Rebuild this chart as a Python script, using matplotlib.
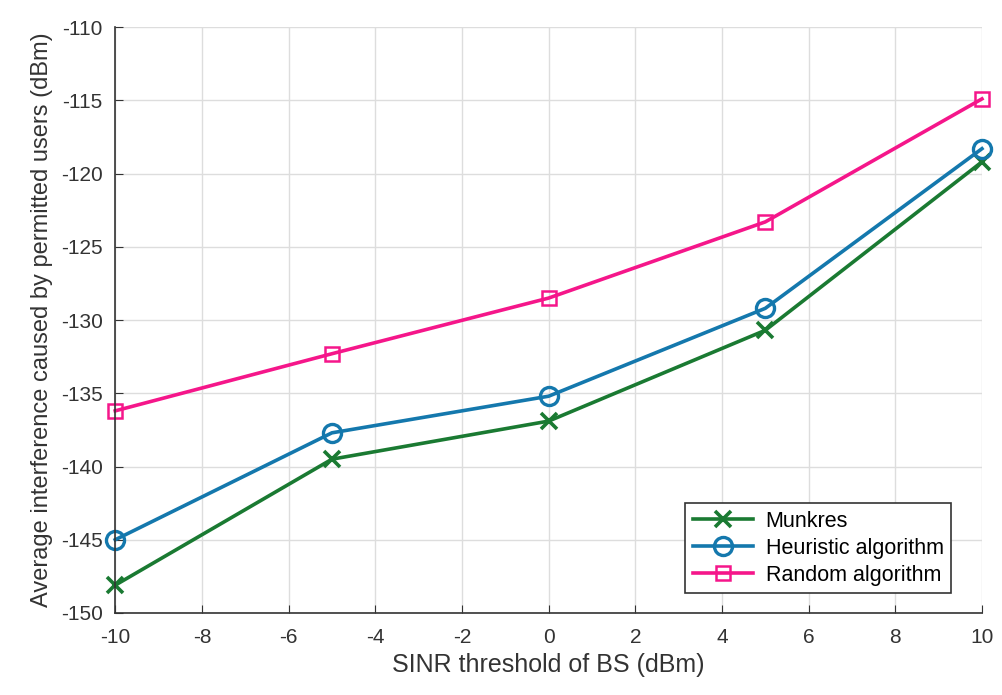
import matplotlib
matplotlib.use('Agg')
import matplotlib.pyplot as plt

plt.rcParams['font.family'] = ['Liberation Sans', 'DejaVu Sans']
plt.rcParams['axes.unicode_minus'] = False

# SINR threshold values and the three algorithms' average interference
sinr = [-10, -5, 0, 5, 10]
munkres = [-148.1, -139.5, -136.9, -130.7, -119.2]
heuristic = [-145.0, -137.7, -135.2, -129.2, -118.3]
random_alg = [-136.2, -132.3, -128.5, -123.3, -114.9]

fig = plt.figure(figsize=(10.02, 6.95), dpi=100)
ax = fig.add_axes([0.115, 0.118, 0.865, 0.843])

ax.plot(sinr, munkres, color='#1a7a32', linewidth=2.6, marker='x',
        markersize=11, markeredgewidth=2.6, label='Munkres', clip_on=False)
ax.plot(sinr, heuristic, color='#1478ad', linewidth=2.6, marker='o',
        markersize=13, markerfacecolor='none', markeredgewidth=2.4,
        label='Heuristic algorithm', clip_on=False)
ax.plot(sinr, random_alg, color='#f5168a', linewidth=2.6, marker='s',
        markersize=10, markerfacecolor='none', markeredgewidth=1.8,
        label='Random algorithm', clip_on=False)

ax.set_xlim(-10, 10)
ax.set_ylim(-150, -110)
ax.set_xticks(range(-10, 11, 2))
ax.set_yticks(range(-150, -109, 5))
ax.grid(True, color='#dddddd', linewidth=1)
ax.set_axisbelow(True)
for s in ['top', 'right']:
    ax.spines[s].set_visible(False)
for s in ['left', 'bottom']:
    ax.spines[s].set_color('#333333')
    ax.spines[s].set_linewidth(1.2)
ax.tick_params(direction='in', length=6, labelsize=15, colors='#333333',
               labelcolor='#333333')
ax.tick_params(axis='x', pad=11)
ax.tick_params(axis='y', pad=9)

ax.set_xlabel('SINR threshold of BS (dBm)', fontsize=18, color='#333333', labelpad=4)
ax.set_ylabel('Average interference caused by permitted users (dBm)',
              fontsize=17, color='#333333', labelpad=6)

leg = ax.legend(loc='lower right', bbox_to_anchor=(0.977, 0.015), fontsize=15.5,
                fancybox=False, framealpha=1, edgecolor='#333333',
                handlelength=2.8, borderpad=0.35, labelspacing=0.28,
                handletextpad=0.6)
leg.get_frame().set_linewidth(1.2)

fig.savefig('out.png', dpi=100)
